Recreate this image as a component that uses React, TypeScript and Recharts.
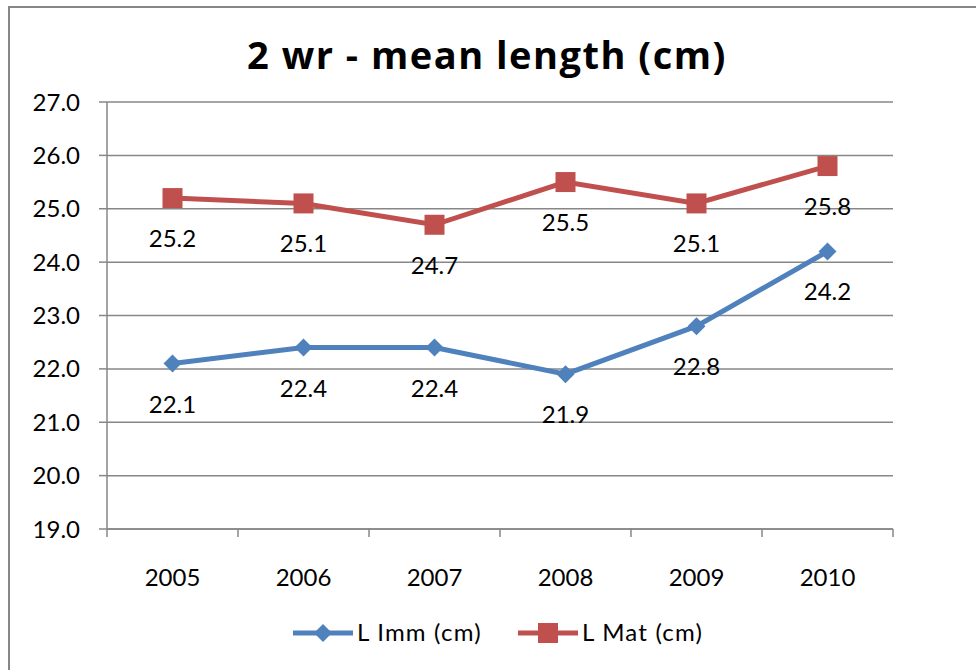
import React from 'react';
import { LineChart, Line, XAxis, YAxis, CartesianGrid } from 'recharts';

const years = ['2005', '2006', '2007', '2008', '2009', '2010'];
const lImm = [22.1, 22.4, 22.4, 21.9, 22.8, 24.2];
const lMat = [25.2, 25.1, 24.7, 25.5, 25.1, 25.8];
const yTicks = [19, 20, 21, 22, 23, 24, 25, 26, 27];

const series = [
  { key: 'imm', name: 'L Imm (cm)', color: '#4F81BD', marker: 'diamond' },
  { key: 'mat', name: 'L Mat (cm)', color: '#C0504D', marker: 'square' },
];

const data = years.map((year, i) => ({ year, imm: lImm[i], mat: lMat[i] }));

const W = 976;
const H = 670;
const PLOT_LEFT = 107;
const PLOT_RIGHT = 893;
const FONT = 'Lato, "Open Sans", sans-serif';
const AXIS_GRAY = '#878787';
const BAND = (PLOT_RIGHT - PLOT_LEFT) / years.length;

function Marker({ cx, cy, type, color }: { cx: number; cy: number; type: string; color: string }) {
  if (type === 'square') {
    return <rect x={cx - 10} y={cy - 10} width={20} height={20} fill={color} />;
  }
  return (
    <polygon
      points={`${cx},${cy - 9} ${cx + 9},${cy} ${cx},${cy + 9} ${cx - 9},${cy}`}
      fill={color}
    />
  );
}

// category labels with Excel-style tick marks between the categories
function YearTick(props: any) {
  const { x, y, payload, index } = props;
  const axisY = y - 40;
  const left = x - BAND / 2;
  return (
    <g>
      <line x1={left} y1={axisY} x2={left} y2={axisY + 8} stroke={AXIS_GRAY} strokeWidth={1.5} />
      {index === years.length - 1 && (
        <line x1={x + BAND / 2} y1={axisY} x2={x + BAND / 2} y2={axisY + 8} stroke={AXIS_GRAY} strokeWidth={1.5} />
      )}
      <text x={x} y={y} dy="0.71em" textAnchor="middle" fontSize={24} fontFamily={FONT} fill="#000">
        {payload.value}
      </text>
    </g>
  );
}

function valueLabel(props: any) {
  const x = props.x ?? props.viewBox?.x;
  const y = props.y ?? props.viewBox?.y;
  if (x == null || y == null) return null;
  return (
    <text x={x} y={y + 49} textAnchor="middle" fontSize={24} fontFamily={FONT} fill="#000">
      {Number(props.value).toFixed(1)}
    </text>
  );
}

export default function App() {
  return (
    <div style={{ position: 'fixed', inset: 0, overflow: 'hidden', background: '#fff' }}>
      <div
        style={{
          position: 'absolute',
          left: 8,
          top: 6,
          width: 1100,
          height: 800,
          border: `2px solid ${AXIS_GRAY}`,
        }}
      />
      <div style={{ position: 'absolute', left: 0, top: 0 }}>
        <LineChart
          width={W}
          height={H}
          data={data}
          margin={{ top: 102, right: W - PLOT_RIGHT, bottom: 101, left: 0 }}
        >
          <CartesianGrid vertical={false} stroke={AXIS_GRAY} strokeWidth={1.5} />
          <XAxis
            dataKey="year"
            height={40}
            padding={{ left: BAND / 2, right: BAND / 2 }}
            axisLine={{ stroke: AXIS_GRAY, strokeWidth: 1.5 }}
            tickLine={false}
            tickSize={8}
            tickMargin={32}
            tick={<YearTick />}
            interval={0}
          />
          <YAxis
            width={PLOT_LEFT}
            domain={[19, 27]}
            ticks={yTicks}
            interval={0}
            tickFormatter={(v: number) => v.toFixed(1)}
            axisLine={{ stroke: AXIS_GRAY, strokeWidth: 1.5 }}
            tickLine={{ stroke: AXIS_GRAY, strokeWidth: 1.5 }}
            tickSize={8}
            tickMargin={19}
            tick={{ fontSize: 24, fontFamily: FONT, fill: '#000' }}
          />
          {series.map((s) => (
            <Line
              key={s.key}
              dataKey={s.key}
              name={s.name}
              stroke={s.color}
              strokeWidth={5}
              isAnimationActive={false}
              dot={(p: any) => <Marker key={`${s.key}-${p.index}`} cx={p.cx} cy={p.cy} type={s.marker} color={s.color} />}
              activeDot={false}
              label={valueLabel}
            />
          ))}
        </LineChart>
      </div>
      <svg width={W} height={H} style={{ position: 'absolute', left: 0, top: 0, pointerEvents: 'none' }}>
        <text
          x={487}
          y={69}
          textAnchor="middle"
          fontSize={38}
          fontWeight="bold"
          letterSpacing={1.5}
          fontFamily='"Open Sans", Lato, sans-serif'
          fill="#000"
        >
          2 wr - mean length (cm)
        </text>
        {series.map((s, i) => {
          const x0 = i === 0 ? 293 : 518;
          const cy = 633;
          return (
            <g key={s.key}>
              <line x1={x0} y1={cy} x2={x0 + 60} y2={cy} stroke={s.color} strokeWidth={5} />
              <Marker cx={x0 + 30} cy={cy} type={s.marker} color={s.color} />
              <text x={x0 + 64} y={cy} dy="0.35em" fontSize={24} letterSpacing={1.2} fontFamily={FONT} fill="#000">
                {s.name}
              </text>
            </g>
          );
        })}
      </svg>
    </div>
  );
}
